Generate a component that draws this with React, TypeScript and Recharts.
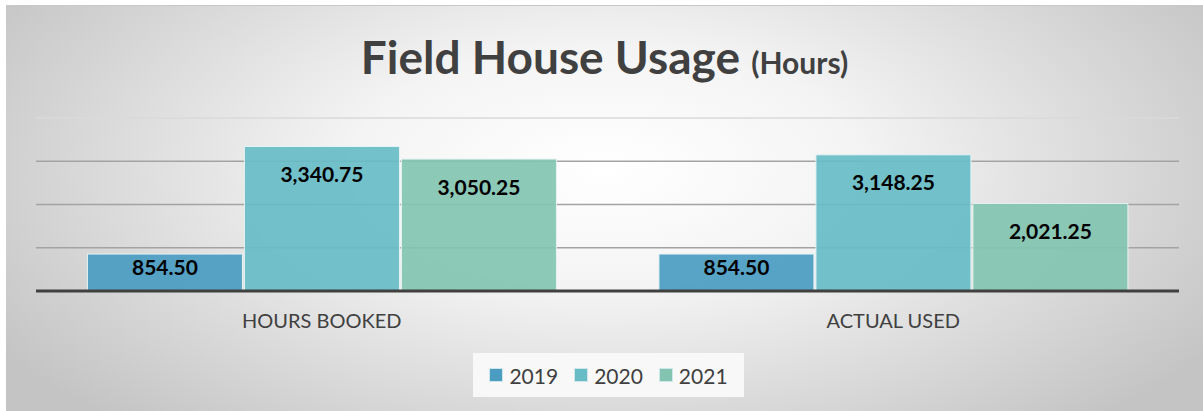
import { BarChart, Bar, XAxis, YAxis, CartesianGrid, LabelList } from 'recharts';

const categories = ['HOURS BOOKED', 'ACTUAL USED'];
const years = ['2019', '2020', '2021'];
const hours2019 = [854.5, 854.5];
const hours2020 = [3340.75, 3148.25];
const hours2021 = [3050.25, 2021.25];
const yTicks = [0, 1000, 2000, 3000, 4000];

const colors: Record<string, string> = {
  '2019': '#4a9cc1',
  '2020': '#67bcc5',
  '2021': '#82c4b0',
};

const data = categories.map((name, i) => ({
  name,
  '2019': hours2019[i],
  '2020': hours2020[i],
  '2021': hours2021[i],
}));

const FONT = 'Lato, "Open Sans", sans-serif';

const fmt = (v: number) =>
  v.toLocaleString('en-US', { minimumFractionDigits: 2, maximumFractionDigits: 2 });

// label sits near the top of the bar, but stays inside short bars
const ValueLabel = (props: any) => {
  const { x, y, width, height, value } = props;
  const off = Math.min(27, height / 2 - 6);
  return (
    <text
      x={x + width / 2}
      y={y + off}
      textAnchor="middle"
      dominantBaseline="central"
      fontFamily={FONT}
      fontWeight={700}
      fontSize={21}
      fill="#000"
    >
      {fmt(Number(value))}
    </text>
  );
};

const gridLine = (props: any) => {
  const { x1, x2, y1, y2, index } = props;
  const top = index === yTicks.length - 1;
  return (
    <line
      key={`g-${index}`}
      x1={x1}
      x2={x2}
      y1={y1}
      y2={y2}
      stroke={top ? '#dadada' : '#a3a3a3'}
      strokeWidth={1.3}
    />
  );
};

export default function App() {
  return (
    <div style={{ position: 'absolute', top: 0, left: 0, width: 1203, height: 411, background: '#fff' }}>
      <div
        style={{
          position: 'absolute',
          left: 6,
          top: 5,
          width: 1197,
          height: 405,
          borderTop: '1px solid #c8c8c8',
          background: 'radial-gradient(ellipse 60% 85% at 50% 40%, #ffffff 0%, #f4f4f4 35%, #c4c4c4 100%)',
          fontFamily: FONT,
        }}
      >
        <div
          style={{
            position: 'absolute',
            top: 21,
            left: 0,
            width: '100%',
            textAlign: 'center',
            color: '#404040',
            fontWeight: 700,
            fontSize: 46,
            lineHeight: '60px',
          }}
        >
          Field House Usage <span style={{ fontSize: 30 }}>(Hours)</span>
        </div>
        <BarChart
          width={1197}
          height={405}
          data={data}
          margin={{ top: 112, right: 24, left: 30, bottom: 80 }}
          barCategoryGap="9%"
          barGap={2}
        >
          <CartesianGrid vertical={false} horizontal={gridLine} />
          <YAxis hide domain={[0, 4000]} ticks={yTicks} />
          <XAxis
            dataKey="name"
            height={40}
            tickLine={false}
            axisLine={{ stroke: '#404040', strokeWidth: 3 }}
            tick={{ fill: '#404040', fontSize: 20, fontFamily: FONT }}
            tickMargin={17}
          />
          {years.map((yr) => (
            <Bar
              key={yr}
              dataKey={yr}
              fill={colors[yr]}
              fillOpacity={0.92}
              stroke="#e6f3f3"
              strokeWidth={1}
              isAnimationActive={false}
            >
              <LabelList dataKey={yr} content={ValueLabel} />
            </Bar>
          ))}
        </BarChart>
        <div
          style={{
            position: 'absolute',
            left: 467,
            top: 347,
            width: 271,
            height: 44,
            background: '#f8f8f8',
            display: 'flex',
            alignItems: 'center',
            justifyContent: 'center',
            gap: 16,
          }}
        >
          {years.map((yr) => (
            <div key={yr} style={{ display: 'flex', alignItems: 'center', gap: 6 }}>
              <span
                style={{
                  width: 12,
                  height: 12,
                  background: colors[yr],
                  border: '1px solid #cfe6ea',
                  display: 'inline-block',
                }}
              />
              <span style={{ fontSize: 21, color: '#404040' }}>{yr}</span>
            </div>
          ))}
        </div>
      </div>
    </div>
  );
}
